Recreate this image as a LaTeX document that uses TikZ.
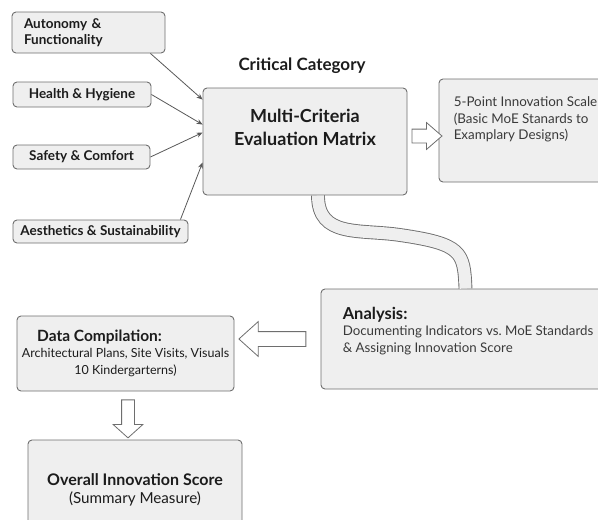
\documentclass[tikz,border=0pt]{standalone}
\usepackage{fontspec}
\setmainfont{Lato}
\usetikzlibrary{arrows.meta,shapes.arrows,calc}

\definecolor{boxfill}{HTML}{EFEFEF}
\definecolor{boxline}{HTML}{6E6E6E}
\definecolor{ink}{HTML}{1C1C1C}
\definecolor{softink}{HTML}{3A3A3A}

\begin{document}
\begin{tikzpicture}[
        x = 1pt, y = -1pt,
        box/.style = {draw=boxline, fill=boxfill, line width=0.9pt, rounded corners=4pt,
                      inner sep=0pt, text=ink},
        crit/.style = {box, font=\fontsize{13.5}{16}\selectfont\bfseries},
        feed/.style = {draw=boxline!80!black, line width=0.8pt, -{Stealth[length=6pt,width=5pt]}},
        block/.style = {single arrow, draw=boxline, fill=white, line width=0.8pt,
                        inner sep=#1},
        pipe/.style = {draw=boxline, line width=0.9pt, double=boxfill, double distance=12pt}]
      \useasboundingbox (0, 0) rectangle (598, 520);
      \clip (0, 0) rectangle (598, 520);

      % criteria on the left
      \node [crit, minimum width=153, minimum height=41, text width=129, align=left]
        (aut) at (88.5, 32.5) {Autonomy \&\\Functionality};
      \node [crit, minimum width=138, minimum height=25] (hyg) at (82, 94.5) {Health \& Hygiene};
      \node [crit, minimum width=137, minimum height=24] (saf) at (81.5, 157) {Safety \& Comfort};
      \node [crit, minimum width=175, minimum height=23] (aes) at (100.5, 231.5) {Aesthetics \& Sustainability};

      % evaluation matrix
      \node [font=\fontsize{17}{20}\selectfont\bfseries, text=ink] (cat) at (302, 66) {Critical Category};
      \node [box, minimum width=204, minimum height=107] (main) at (305, 141.5) {};
      \node [font=\fontsize{18}{23}\selectfont\bfseries, text=ink, align=center]
        (maintxt) at ($(main.north)+(0, 40)$) {Multi-Criteria\\Evaluation Matrix};

      \draw [feed] ($(aut.south east)+(-15, 0)$) -- ($(main.north west)+(0, 12)$);
      \draw [feed] (hyg.east) -- ($(main.north west)+(0, 37)$);
      \draw [feed] (saf.east) -- ($(main.north west)+(0, 45)$);
      \draw [feed] ($(aes.north east)+(-8, 0)$) -- ($(main.north west)+(0, 75)$);

      % innovation scale
      \node [box, minimum width=171, minimum height=103] (scale) at (524.5, 130.5) {};
      \node [anchor=north west, align=left, inner sep=0pt, text=softink,
             font=\fontsize{13.4}{16.5}\selectfont]
        (scaletxt) at ($(scale.north west)+(15, 18)$)
        {5-Point Innovation Scale\\(Basic MoE Stanards to\\Examplary Designs)};
      \node [block=6.5pt, minimum height=30pt, single arrow head extend=6.5pt,
             single arrow tip angle=82] (toscale) at (423, 136) {};

      % analysis
      \node [box, minimum width=289, minimum height=100] (ana) at (465.5, 339) {};
      \node [anchor=north west, align=left, inner sep=0pt, text=softink,
             font=\fontsize{13.3}{17}\selectfont]
        (anatxt) at ($(ana.north west)+(22, 18)$)
        {{\fontsize{16.5}{18}\selectfont\bfseries\color{ink}Analysis:}\\[-1pt]
         Documenting Indicators vs.\ MoE Standards\\\& Assigning Innovation Score};
      \draw [pipe] ($(main.south)+(13, 0)$) .. controls (318, 238) and (360, 229) .. (400, 235)
                   .. controls (462, 244) and (464, 252) .. (ana.north);

      % data compilation
      \node [box, minimum width=217, minimum height=75, align=center,
             font=\fontsize{12.5}{17}\selectfont]
        (data) at (125.5, 353.5)
        {{\fontsize{15.5}{18}\selectfont\bfseries Data Compilation:}\hspace*{52pt}\\[-1pt]
         Architectural Plans, Site Visits, Visuals\\10 Kindergarterns)};
      \node [block=7pt, minimum height=67pt, single arrow head extend=10pt,
             single arrow tip angle=84, shape border rotate=180] (todata) at (276.5, 339) {};

      % overall score
      \node [block=6pt, minimum height=38pt, single arrow head extend=8.5pt,
             single arrow tip angle=96, shape border rotate=270] (toscore) at (128, 416) {};
      \node [box, minimum width=214, minimum height=100, align=center,
             font=\fontsize{15.2}{18}\selectfont]
        (score) at (135, 490)
        {{\fontsize{16}{18}\selectfont\bfseries Overall Innovation Score}\\(Summary Measure)};
    \end{tikzpicture}
\end{document}
